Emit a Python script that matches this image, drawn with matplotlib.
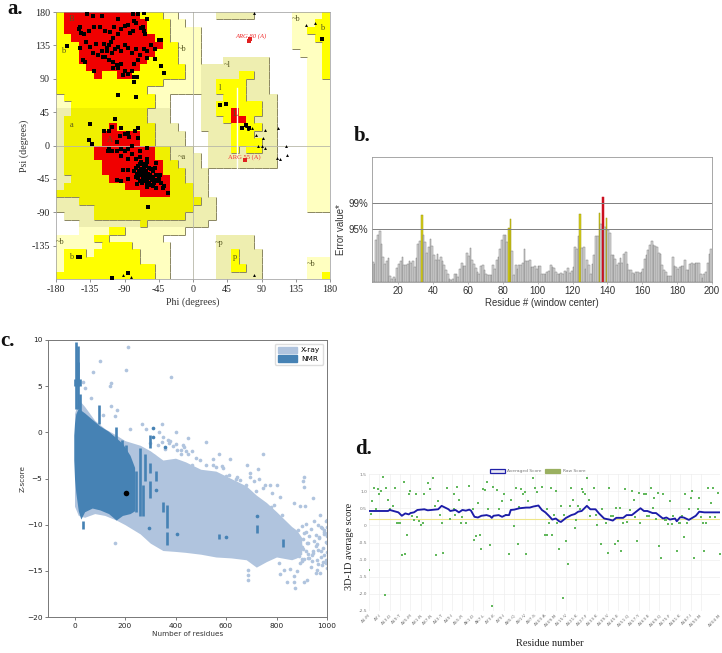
import numpy as np
import matplotlib
matplotlib.use("Agg")
import matplotlib.pyplot as plt
from matplotlib.collections import LineCollection
from matplotlib.colors import ListedColormap
from matplotlib.patches import Patch

W, H = 722, 653
SERIF = "Liberation Serif"
SANS = "Liberation Sans"

# ---------------- panel a: Ramachandran ----------------
rama_rows = [
 "y0 r1-10 y11-13 p14-15 b21-25 p31-34 y35",
 "y0 r1-11 y12-14 p15-16 p31-33 y34-35",
 "y0 r1-11 y12-14 p15-18 p31-32 y33-35",
 "y0-1 r2-12 y13-14 p15-18 p31-33 y34-35",
 "y0-2 r3-13 y14-15 p16-18 p31-34 y35",
 "y0-2 r3-12 y13-15 p16-18 p32-34 y35",
 "y0-2 r3-11 y12-15 p16-18 b22-27 p33-34 y35",
 "y0-3 r4-10 y11-16 p17-18 b19-27 p33-34 y35",
 "y0-4 r5 y6-7 r8-9 y10-16 p17-18 b19-23 y24-25 b26-27 p33-34 y35",
 "y0-13 p14-18 b19-20 y21-24 b25-27 p33-35",
 "y0-11 p12-18 b19-20 y21-24 b25-27 p33-35",
 "p0 y1-12 p13-14 b19-21 y22-24 b25-28 p33-35",
 "p0-1 y2-12 p13-14 b19-20 y21-26 b27-28 p33-35",
 "b0-1 Y2-11 b12-14 b19-20 y21-22 r23 y24-26 b27-28 p33-35",
 "b0 Y1-11 b12-14 b19-21 y22 r23-24 y25 b26-28 p33-35",
 "b0 Y1-6 r7 Y8-12 b13-15 b19-22 y23-26 b27-28 p33-35",
 "b0 Y1-5 r6-10 Y11-12 b13-16 b20-22 y23-25 b26-28 p33-35",
 "b0 Y1-5 r6-10 Y11-12 b13-16 b20-22 y23-26 b27-28 p33-35",
 "b0 Y1-4 r5-12 Y13-14 b15-17 b20-22 y23 b24 y25-26 b27-28 p33-35",
 "b0 Y1-4 r5-12 Y13-14 b15-18 b20-28 p33-35",
 "b0 Y1-5 r6-13 Y14-15 b16-18 b20-28 p33-35",
 "b0 Y1-5 r6-13 Y14-16 b17-19 p33-35",
 "b0-1 Y2-6 r7-14 Y15-16 b17-19 p33-35",
 "b0 Y1-8 r9-14 Y15-17 b18-19 p33-35",
 "Y0-10 r11-14 Y15-17 b18-19 p33-35",
 "b0-2 Y3-18 b19-20 p33-35",
 "b0-4 Y5-17 b18-20 p33-35",
 "b1-4 Y5-16 b17-20",
 "b3-10 Y11 b12-19",
 "p3-6 y7-8 p9-16",
 "p0-4 y5-6 p7-13 b21-25",
 "p0-5 y6-9 p10-14 b21-25",
 "p0 y1-3 p4 y5-10 p11-14 b21-22 y23 b24-26",
 "p0 y1-10 p11-14 b21-22 y23 b24-26 p33-35",
 "p0 y1-12 p13-14 b21-22 y23-24 b25-26 p33-35",
 "y0-12 p13-14 b21-26 p33-34 y35",
]
rama_classes = ".pbyYr"
rama_colors = ["#ffffff", "#ffffc0", "#eeeeb0", "#ffff00", "#f0f000", "#f00000"]
rama_rank = [0, 1, 1, 2, 2, 3]

res_phi = [-139,-131,-119,-79,-65,-72,-60,-150,-148,-147,-143,-136,-130,-122,-115,-109,-99,-104,-95,-90,-86,-83,-78,-75,-68,-65,-63,-66,-79,-98,-105,-117,-113,-110,-108,-106,-113,-103,-99,-95,-90,-85,-80,-75,-70,-65,-60,-55,-50,-45,-42,-140,-135,-128,-148,-165,-144,-142,-132,-125,-118,-105,-100,-95,-90,-85,-80,-78,-72,-60,-50,-42,-38,-130,-98,-77,-74,-77,-99,-75,-120,-115,-110,-105,-92,
  -135,-137,-133,-102,-117,-110,-106,-95,-85,-76,-72,-96,-90,-84,-72,-100,-95,-110,-112,-106,-100,-90,-95,-85,-80,-70,-60,-80,-85,-75,-70,-60,-48,-92,-86,-100,-95,-85,-33,
  -75,-72,-70,-68,-65,-62,-60,-58,-55,-52,-50,-48,-45,-77,-74,-71,-68,-65,-62,-59,-56,-53,-50,-47,-75,-72,-69,-66,-63,-60,-57,-54,-51,-70,-67,-64,-61,-58,-55,-52,-48,-42,-38,-73,-40,-60,-62,-66,-58,-70,-64,-44,-59,
  -151,-150,-148,-107,-85,35,43,69,65,73,170]
res_psi = [177,175,175,177,179,177,171,157,160,152,150,155,160,160,155,153,170,160,157,161,163,152,168,165,158,155,150,160,155,150,145,137,132,135,140,125,128,130,133,128,135,132,125,130,122,130,128,135,130,142,142,140,133,137,132,134,115,113,125,122,120,112,108,110,100,97,100,110,115,118,117,107,98,100,105,92,92,86,68,66,128,120,115,105,95,
  29,7,2,36,19,20,25,24,17,19,23,13,15,12,10,5,-5,-5,-8,-8,-7,-7,-14,-5,-12,-7,-3,0,-18,-18,-15,-18,-24,-33,-33,-46,-48,-45,-64,
  -30,-28,-25,-22,-25,-28,-22,-30,-32,-35,-30,-40,-45,-35,-38,-34,-32,-36,-34,-38,-40,-42,-46,-48,-42,-44,-40,-43,-41,-45,-44,-47,-50,-48,-50,-48,-52,-50,-53,-55,-57,-50,-55,-52,-57,-56,-47,-38,-42,-36,-30,-40,-83,
  -150,-151,-150,-178,-172,54,56,28,24,24,143]
gly_phi = [80,149,160,70,72,77,83,92,95,90,85,95,112,122,123,110,114,80,-92,-81]
gly_psi = [179,163,165,26,22,24,14,10,21,0,0,-4,24,0,-13,-17,-18,-175,-174,-177]
outlier_phi = [73, 75, 68]
outlier_psi = [141, 143, -20]
rama_labels = [("B",-160,170),("b",-170,127),("a",-160,28),("A",-109,8),("b",-160,-150),
               ("~b",-15,130),("l",35,78),("~l",45,108),("L",55,43),("~a",-15,-16),
               ("~p",35,-132),("p",55,-150),("~b",-175,-130),("~b",135,170),("b",170,158),("~b",155,-160)]
rama_ticks = [-180,-135,-90,-45,0,45,90,135,180]

# ---------------- panel b: ERRAT ----------------
errat_values = [
 6.0,5.5,12.7,14.2,15.4,11.5,7.5,5.3,6.2,7.3,1.8,1.0,1.5,1.0,4.2,5.3,6.3,7.6,5.0,5.2,
 5.3,6.3,5.8,6.2,4.5,7.2,11.5,12.3,20.0,14.2,11.9,8.7,10.5,12.9,10.8,8.0,6.7,8.3,6.5,7.5,
 6.2,5.2,3.5,2.5,1.0,0.7,1.0,2.5,2.5,1.5,4.0,5.7,4.8,4.7,8.8,7.7,10.3,6.7,5.5,4.3,
 3.0,2.5,4.8,5.0,3.5,2.5,2.2,2.0,2.2,5.0,4.0,6.5,7.5,10.0,12.5,14.0,14.0,12.0,16.3,18.9,9.2,
 2.0,5.0,4.0,5.0,5.2,5.8,9.8,6.2,6.2,6.7,4.5,4.5,4.8,3.8,4.8,4.8,2.3,2.5,2.5,3.0,
 3.3,5.2,4.5,4.3,3.0,2.3,2.5,2.8,2.5,3.3,3.0,4.3,2.7,3.3,4.5,10.4,10.0,13.7,20.4,10.2,
 10.5,4.0,6.5,5.0,2.5,5.5,8.0,13.7,13.7,20.7,17.5,25.4,16.5,19.2,15.5,14.8,8.1,8.0,7.0,5.0,5.8,
 7.3,5.8,8.5,9.0,5.5,3.7,3.5,2.8,2.5,3.0,3.0,2.8,3.0,4.0,6.8,8.2,9.7,11.0,12.4,11.0,10.7,
 10.5,8.8,8.3,5.0,3.5,3.0,1.8,1.8,1.8,7.5,4.8,4.5,4.0,4.5,4.8,4.8,6.5,3.7,3.5,5.5,5.7,
 5.5,5.8,5.8,5.8,2.3,1.3,2.5,3.0,5.8,8.5,10.0]
errat_first = 5
errat_yellow = [33, 83, 84, 124, 135, 139]
errat_red = [137]
level_95, level_99, errat_top = 16.0, 23.8, 37.5
errat_ticks = [20,40,60,80,100,120,140,160,180,200]

# ---------------- panel c: ProSA ----------------
xray_n =     [0,  15, 40, 80, 120, 165, 200, 260, 300, 350, 400, 440, 500, 560, 620, 680, 720, 760, 800, 860, 880, 900]
xray_upper = [2,3.6,2.8,1.3,0.4,-0.3,-0.9,-1.4,-2,-3.0,-2.8,-3.2,-4.0,-4.2,-5,-5.8,-6.8,-7.6,-8.6,-10.2,-10.6,-11.4]
xray_lower = [-8,-9,-9.2,-8.8,-9,-9.5,-10,-11,-12,-12.8,-12.9,-13,-13.2,-13.5,-13.6,-13.8,-14.6,-14,-13.5,-13.8,-13.6,-13.2]
xray_pts_n = [212,100,73,205,384,33,40,140,146,66,143,170,160,113,218,269,347,285,335,401,351,371,450,519,430,572,616,550,748,497,464,457,550,583,682,728,695,731,642,656,709,695,755,748,775,801,781,815,689,629,583,907,905,910,943,868,894,914,974,997,159,874,689,689,689,841,868,870,907,920,973,955,812,828,808,853,880,900,
  885,895,905,915,925,935,945,955,965,975,985,995,890,900,910,920,930,940,950,960,970,980,990,1000,895,905,915,935,950,965,980,995,1000,1000,990,975,960,925,900,
  560,590,520,540,610,640,670,700,730,760,790,820,480,440,420,400,380,780,720,680,640,600,
  330,345,360,375,390,405,420,435,450,465,300,315,885,900,915,930,945,960,975,990,1000,995,985,970,955,940,925,910,1000,1000,1000,990,965]
xray_pts_z = [9.2,7.7,6.5,6.7,6,5.5,4.8,5,5.3,3.7,2.8,2.4,1.8,1.9,0.4,0.9,0.9,0.4,0,0,-0.5,-0.8,-0.6,-1,-1.4,-2.4,-2.9,-2.9,-2.4,-3,-3.5,-4.4,-3.5,-3.6,-3.5,-4,-4.4,-5,-4.8,-5.2,-5.3,-4.8,-5.7,-6,-5.7,-5.7,-6.6,-7,-6.8,-6.6,-6.4,-4.8,-5.3,-5.9,-7.1,-7.7,-8,-8,-9,-9.6,-12,-16.9,-16,-15.5,-14.9,-16.2,-16.2,-15.6,-16.2,-16,-15.2,-15.2,-15.3,-14.9,-14.1,-14.8,-15,-13.9,
  -10.6,-12.2,-11.5,-9.9,-13.2,-10.5,-12.8,-11.1,-14.3,-10.2,-12.5,-11.9,-13.4,-10.1,-13.7,-12,-11.2,-13.3,-9.6,-13.8,-11.4,-14.4,-10.8,-13,-14.2,-12.6,-10.8,-14.6,-11.8,-12.7,-10.4,-14.2,-10.9,-14.7,-13.3,-12.9,-14.9,-13.6,-13.7,
  -3.8,-3.9,-3.5,-4.5,-4.6,-5.5,-6.2,-7.1,-7.4,-8.4,-7.9,-8.9,-2.8,-2,-1.9,-1.3,-0.9,-8.1,-6.4,-5.7,-5.1,-4.7,
  -1.4,-1.0,-1.8,-1.2,-1.5,-1.9,-2.3,-1.6,-2.4,-2.0,-1.2,-2.6,-11.8,-12.4,-12.9,-13.6,-13.1,-12.1,-13.5,-10.6,-11.2,-13.8,-14.0,-11.3,-12.3,-13.9,-12.0,-10.9,-9.5,-10.2,-12.0,-11.0,-10.0]
nmr_n =     [-3, 0, 5, 15, 25, 40, 70, 100, 135, 165, 190, 220, 238]
nmr_upper = [-0.3,1.0,2.0,2.6,2.4,2.1,1.4,0.7,0.1,-0.6,-1.2,-2.5,-3.8]
nmr_lower = [-3,-5,-6.5,-8.5,-9.4,-8.6,-8.2,-8.4,-8.8,-9.5,-9,-8.8,-8.5]
nmr_bar_n =  [7,12,14,3,20,97,165,188,205,245,258,272,281,298,298,298,324,350,368,368,722,825,572,33,20]
nmr_bar_hi = [9.8,9.4,7.6,5.8,5.8,3.0,0.6,-0.8,-1.4,-4.2,-1.7,-5.7,-2.4,-0.3,-3.3,-5.3,-4.2,-7.5,-7.9,-10.8,-10,-11.6,-11,-9.6,4.2]
nmr_bar_lo = [2.5,2.5,5.0,5.0,5.0,0.9,-1.4,-2.8,-3.2,-8.6,-9.1,-9.1,-5.3,-1.7,-4.4,-7.1,-5.3,-8.6,-10.4,-12.2,-10.9,-12.4,-11.5,-10.5,2.0]
nmr_pts_n = [600,404,722,311,311,324,294,360]
nmr_pts_z = [-11.3,-11,-9.1,0.5,-0.5,-6.2,-10.4,-1.6]
query_n, query_z = [205], [-6.6]

# ---------------- panel d: Verify3D ----------------
avg_res = [1,12,13,18,20,22,24,25,27,29,31,33,35,39,41,43,45,47,48,51,53,55,57,59,60,62,64,66,69,71,72,73,76,78,80,82,83,85,88,92,94,96,99,101,103,105,107,109,111,112,115,118,120,122,124,127,129,132,134,137,140,142,144,148,150,153,156,158,160,162,165,167,169,171,173,175,178,179,181,183,186,188,190,192,195,204]
avg_val = [.42,.42,.45,.38,.28,.35,.32,.36,.38,.45,.46,.47,.44,.46,.47,.57,.52,.47,.42,.45,.38,.45,.43,.46,.43,.25,.23,.28,.3,.27,.22,.28,.3,.25,.3,.3,.45,.46,.5,.52,.52,.55,.58,.45,.38,.28,.17,.2,.12,.1,.22,.3,.33,.4,.42,.57,.47,.47,.35,.2,.17,.14,.22,.22,.3,.3,.42,.5,.42,.42,.36,.36,.28,.2,.23,.17,.2,.12,.24,.23,.16,.22,.28,.4,.38,.38]
raw_res = [1,2,3,4,5,6,7,8,9,10,11,12,13,15,16,17,18,19,20,21,22,23,24,25,26,27,28,29,30,31,32,33,35,36,38,39,40,41,42,43,44,46,48,50,50,51,52,53,54,55,57,59,61,62,63,64,65,66,67,68,69,70,71,72,73,75,76,78,79,80,82,83,85,86,87,88,89,90,91,92,93,96,97,98,101,103,104,104,105,106,107,108,109,110,111,112,113,114,115,116,117,118,119,120,121,122,123,124,125,126,127,128,129,131,132,133,135,136,138,139,140,141,142,143,144,145,146,147,148,149,150,152,153,154,155,156,157,158,160,161,162,163,164,165,166,167,168,169,170,171,172,173,174,175,176,177,179,180,181,182,183,184,185,186,187,188,189,191,192,193,194,195,196,197,198,199,200,201,203,204]
raw_val = [-1.3,.33,.7,1.1,.47,1.05,.92,1.0,1.4,-2.02,1.1,.75,.48,.58,1.08,.08,.08,.08,-.87,1.28,-.83,-.27,.92,1.0,.27,.17,.92,.25,.13,0,.08,.92,1.24,1.05,1.38,.58,-.87,.7,.3,.08,-.8,1.1,.2,.92,.48,.3,1.13,.75,.08,.23,.08,1.14,.48,-.42,-.3,.65,-.27,-.7,1.05,1.03,1.28,.47,-.58,-2.36,1.11,1.03,.47,.7,.92,.3,-.85,.75,-.03,1.1,-.55,.55,1.05,.92,.97,-.83,.7,1.39,1.1,.97,1.13,-.27,-.27,.47,.08,1.1,-.27,.3,1.0,.08,-.7,.58,-2.12,.3,-.45,-1.14,.58,1.1,.75,-.09,.17,.58,.47,1.05,.97,.92,1.39,.75,.28,1.1,.3,0,-.55,.48,.08,-.8,1.1,.28,.28,-.55,.5,-.47,.5,-.75,.08,1.05,.1,.46,1.0,.75,.25,-.47,.94,.08,.92,.92,.28,.28,1.1,.5,.8,.2,.94,-.6,-.95,.92,.17,.17,.03,.7,.03,.28,-.75,.08,.08,.28,-.34,.92,.08,.47,.8,1.0,-.95,.47,.8,.25,.08,-.75,.08,1.1,.25,.65,1.1,.25,.94,-.83]
d_label_res = [1,7,13,19,25,31,37,43,49,55,61,67,73,79,85,91,97,103,109,115,121,127,133,139,145,151,157,163,169,175,181,187,193,204]
d_labels = ["A1:M","A7:I","A13:D","A19:T","A25:M","A31:N","A37:N","A43:T","A49:I","A55:R","A61:D","A67:L","A73:K","A79:I","A85:Q","A91:V","A97:S","A103:A","A109:M","A115:V","A121:K","A127:F","A133:K","A139:V","A145:E","A151:Q","A157:Y","A163:E","A169:Q","A175:F","A181:K","A187:I","A193:M","A204:M"]
d_yticks = [-2.5,-2,-1.5,-1,-0.5,0,0.5,1,1.5]
d_threshold = 0.2


def box(l, t, r, b):
    return fig.add_axes([l / W, 1 - b / H, (r - l) / W, (b - t) / H])


fig = plt.figure(figsize=(W / 100, H / 100), dpi=100, facecolor="white")

# ---- a ----
ax = box(56, 12, 330, 279)
grid = np.zeros((36, 36), dtype=int)
for i, row in enumerate(rama_rows):
    for run in row.split():
        code, span = run[0], run[1:]
        lo, hi = (span.split("-") + [span])[:2]
        grid[i, int(lo):int(hi) + 1] = rama_classes.index(code)
edges_x = np.arange(-180, 181, 10)
edges_y = np.arange(180, -181, -10)
ax.pcolormesh(edges_x, edges_y, grid, cmap=ListedColormap(rama_colors), vmin=-0.5, vmax=5.5)
rank = np.array(rama_rank)[grid]
segs = []
for i in range(36):
    for j in range(36):
        if rank[i, j] in (1, 2):
            if i < 35 and rank[i + 1, j] < rank[i, j]:
                segs.append([(edges_x[j], edges_y[i + 1]), (edges_x[j + 1], edges_y[i + 1])])
            if j < 35 and rank[i, j + 1] < rank[i, j]:
                segs.append([(edges_x[j + 1], edges_y[i]), (edges_x[j + 1], edges_y[i + 1])])
ax.add_collection(LineCollection(segs, colors="#8a8660", linewidths=0.7))
ax.axhline(0, color="#b8b8a8", lw=0.6)
ax.axvline(0, color="#b8b8a8", lw=0.6)
ax.plot([58, 58], [78, -30], color="white", lw=1.0)
ax.scatter(res_phi, res_psi, marker="s", s=5.5, c="black", lw=0, zorder=4)
ax.scatter(gly_phi, gly_psi, marker="^", s=4.5, c="black", lw=0, zorder=4)
ax.scatter(outlier_phi, outlier_psi, marker="s", s=5.5, c="#e02020", lw=0, zorder=5)
for txt, px, py in rama_labels:
    ax.text(px, py, txt, family=SERIF, fontsize=6, color="#555520", ha="center", va="center")
ax.text(76, 148, "ARG 80 (A)", family=SERIF, fontsize=4.8, color="#f03030", ha="center", va="center", style="italic")
ax.text(68, -15, "ARG 55 (A)", family=SERIF, fontsize=4.8, color="#f03030", ha="center", va="center")
ax.set_xlim(-180, 180)
ax.set_ylim(-180, 180)
ax.set_xticks(rama_ticks)
ax.set_yticks(rama_ticks[1:])
ax.set_xticklabels([str(v) for v in rama_ticks], family=SERIF)
ax.set_yticklabels([str(v) for v in rama_ticks[1:]], family=SERIF)
ax.tick_params(labelsize=7.2, length=2.5, width=0.5, color="#666666", labelcolor="#222222", pad=2)
ax.set_xlabel("Phi (degrees)", family=SERIF, fontsize=7.2, color="#333333", labelpad=2)
ax.set_ylabel("Psi (degrees)", family=SERIF, fontsize=7.2, color="#333333", labelpad=2)
for s in ax.spines.values():
    s.set_linewidth(0.5)
    s.set_color("#999999")

# ---- b ----
ax = box(372, 157, 712, 282)
res = np.arange(errat_first, errat_first + len(errat_values))
cols = ["#cc1020" if r in errat_red else "#d8d018" if r in errat_yellow else "#d6d6d6" for r in res]
edgec = ["#cc1020" if r in errat_red else "#9a9410" if r in errat_yellow else "#808080" for r in res]
ax.bar(res, errat_values, width=1.0, color=cols, edgecolor=edgec, linewidth=0.35, align="edge")
ax.axhline(level_95, color="#808080", lw=0.7, zorder=1)
ax.axhline(level_99, color="#808080", lw=0.7, zorder=1)
ax.set_xlim(errat_first, 200)
ax.set_ylim(0, errat_top)
ax.set_xticks(errat_ticks)
ax.set_xticklabels([str(v) for v in errat_ticks], family=SANS)
ax.set_yticks([level_95, level_99])
ax.set_yticklabels(["95%", "99%"], family=SANS)
ax.tick_params(labelsize=7.0, length=0, labelcolor="#333333", pad=3)
ax.tick_params(axis="x", length=1.5, width=0.4, color="#888888", pad=1.5)
ax.set_xlabel("Residue # (window center)", family=SANS, fontsize=6.9, color="#333333", labelpad=1)
ax.set_ylabel("Error value*", family=SANS, fontsize=6.9, color="#333333", labelpad=3)
ax.yaxis.set_label_coords(-0.075, 0.42)
for s in ax.spines.values():
    s.set_linewidth(0.6)
    s.set_color("#999999")

# ---- c ----
ax = box(48, 340, 327, 617)
XR, NM = "#b0c4de", "#4682b4"
ax.fill_between(xray_n, xray_lower, xray_upper, color=XR, lw=0, zorder=1)
ax.scatter(xray_pts_n, xray_pts_z, s=7, color=XR, lw=0, zorder=1)
ax.fill_between(nmr_n, nmr_lower, nmr_upper, color=NM, lw=0, zorder=2)
ax.vlines(nmr_bar_n, nmr_bar_lo, nmr_bar_hi, color=NM, lw=1.9, zorder=2)
ax.scatter(nmr_pts_n, nmr_pts_z, s=7, color=NM, lw=0, zorder=2)
ax.scatter(query_n, query_z, s=16, color="black", lw=0, zorder=3)
ax.set_xlim(-105, 1000)
ax.set_ylim(-20, 10)
ax.set_xticks([0, 200, 400, 600, 800, 1000])
ax.set_yticks([-20, -15, -10, -5, 0, 5, 10])
ax.tick_params(labelsize=5.3, length=2, width=0.5, color="#444444", labelcolor="#222222", pad=2)
ax.set_xlabel("Number of residues", fontsize=5.2, color="#333333", labelpad=2)
ax.set_ylabel("Z-score", fontsize=5.2, color="#333333", labelpad=1)
ax.legend(handles=[Patch(color=XR, label="X-ray"), Patch(color=NM, label="NMR")], loc="upper right",
          fontsize=5.3, frameon=True, edgecolor="#dddddd", framealpha=1, borderpad=0.4,
          handlelength=2.6, handleheight=1.0, labelspacing=0.2, handletextpad=0.6)
for s in ax.spines.values():
    s.set_linewidth(0.7)
    s.set_color("#777777")

# ---- d ----
ax = box(369, 474, 720, 611)
ax.set_axisbelow(True)
ax.grid(True, color="#eeeeee", lw=0.5)
ax.axhline(d_threshold, color="#efe68a", lw=0.8, zorder=1)
ax.scatter(raw_res, raw_val, s=1.5, marker="s", color="#62b85c", lw=0, zorder=2, label="Raw Score")
ax.plot(avg_res, avg_val, color="#1c1ca8", lw=1.35, zorder=3, label="Averaged Score")
ax.set_xlim(1, 204)
ax.set_ylim(-2.5, 1.5)
ax.set_xticks(d_label_res)
ax.set_xticklabels(d_labels, rotation=45, ha="right", rotation_mode="anchor")
ax.set_yticks(d_yticks)
ax.set_yticklabels(["-2.5","-2.0","-1.5","-1.0","-0.5","0","0.5","1.0","1.5"])
ax.tick_params(labelsize=3.2, length=0, labelcolor="#777777", pad=1.5)
for s in ax.spines.values():
    s.set_visible(False)
leg_avg = Patch(facecolor="#e8e8f4", edgecolor="#2020a8", lw=0.9, label="Averaged Score")
leg_raw = Patch(facecolor="#9ab060", edgecolor="#9ab060", lw=0.9, label="Raw Score")
ax.legend(handles=[leg_avg, leg_raw], loc="lower center", bbox_to_anchor=(0.48, 0.985), ncol=2, fontsize=3.2,
          frameon=False, handlelength=3.4, handleheight=1.2, columnspacing=0.8, handletextpad=0.5,
          labelcolor="#777777", borderpad=0.1)
fig.text(550 / W, 1 - 643 / H, "Residue number", family=SERIF, fontsize=7.5, color="#222222", ha="center", va="center")
fig.text(350 / W, 1 - 546 / H, "3D-1D average score", family=SERIF, fontsize=7.4, color="#222222",
         ha="center", va="center", rotation=90)

# panel letters
for txt, px, py in [("a.", 7, 9), ("b.", 354, 136), ("c.", 0, 341), ("d.", 355, 449)]:
    fig.text(px / W, 1 - py / H, txt, family=SERIF, fontsize=15, weight="bold", color="#111111", ha="left", va="center")

fig.savefig("out.png", dpi=100)
